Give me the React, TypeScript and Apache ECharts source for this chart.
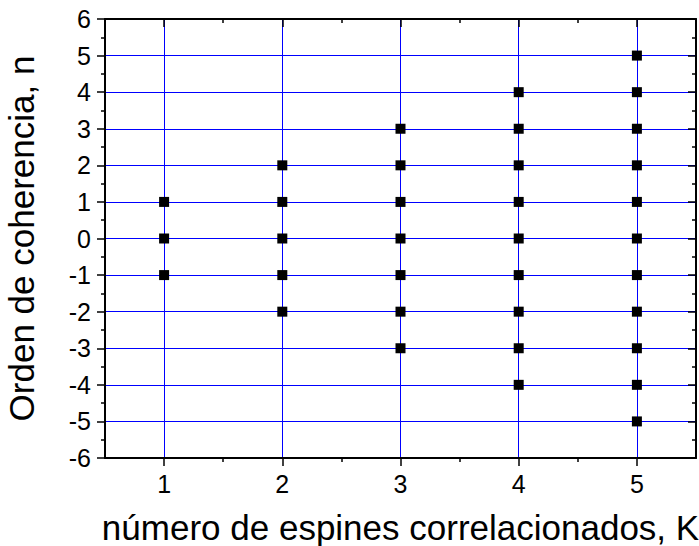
import React, { useEffect, useRef } from "react";
import * as echarts from "echarts";

// Number of correlated spins K on the horizontal axis
const K_VALUES = [1, 2, 3, 4, 5];
// Coherence orders n reachable for each K
const ORDERS_K1 = [-1, 0, 1];
const ORDERS_K2 = [-2, -1, 0, 1, 2];
const ORDERS_K3 = [-3, -2, -1, 0, 1, 2, 3];
const ORDERS_K4 = [-4, -3, -2, -1, 0, 1, 2, 3, 4];
const ORDERS_K5 = [-5, -4, -3, -2, -1, 0, 1, 2, 3, 4, 5];
const ORDERS = [ORDERS_K1, ORDERS_K2, ORDERS_K3, ORDERS_K4, ORDERS_K5];

// Tick positions
const X_MAJOR_TICKS = [1, 2, 3, 4, 5];
const X_MINOR_TICKS = [1.5, 2.5, 3.5, 4.5];

const X_TITLE = "número de espines correlacionados, K";
const Y_TITLE = "Orden de coherencia, n";

const FONT = "'Liberation Sans', Arial, sans-serif";
const GRID_BLUE = "#0000ff";

export default function App() {
  const ref = useRef<HTMLDivElement>(null);

  useEffect(() => {
    if (!ref.current) return;
    const chart = echarts.init(ref.current, undefined, { renderer: "svg" });

    const points: number[][] = [];
    K_VALUES.forEach((k, i) => {
      ORDERS[i].forEach((n) => points.push([k, n]));
    });

    const axisLine = { show: true, onZero: false, lineStyle: { color: "#000", width: 2 } };
    const noLine = { show: false, onZero: false };
    const tickStyle = { color: "#000", width: 1.5 };

    const xBase = { type: "value" as const, min: 0.5, max: 5.5 };

    chart.setOption({
      animation: false,
      backgroundColor: "#fff",
      grid: {
        left: 105,
        right: 3,
        top: 19,
        bottom: 88,
        containLabel: false,
        outerBoundsMode: "none",
      },
      xAxis: [
        {
          ...xBase,
          position: "bottom",
          axisLine,
          axisTick: { show: true, inside: false, length: 8, customValues: X_MAJOR_TICKS, lineStyle: tickStyle },
          axisLabel: {
            show: true,
            customValues: X_MAJOR_TICKS,
            fontSize: 25,
            fontFamily: FONT,
            color: "#000",
            margin: 13,
          },
          splitLine: { show: true, lineStyle: { color: GRID_BLUE, width: 1 } },
          name: X_TITLE,
          nameLocation: "middle",
          nameGap: 52,
          nameTextStyle: { fontSize: 35, fontFamily: FONT, color: "#000" },
        },
        {
          ...xBase,
          position: "bottom",
          axisLine: noLine,
          axisTick: { show: true, inside: false, length: 4, customValues: X_MINOR_TICKS, lineStyle: tickStyle },
          axisLabel: { show: false },
          splitLine: { show: false },
        },
        {
          ...xBase,
          position: "top",
          axisLine,
          axisTick: { show: true, inside: true, length: 8, customValues: X_MAJOR_TICKS, lineStyle: tickStyle },
          axisLabel: { show: false },
          splitLine: { show: false },
        },
        {
          ...xBase,
          position: "top",
          axisLine: noLine,
          axisTick: { show: true, inside: true, length: 4, customValues: X_MINOR_TICKS, lineStyle: tickStyle },
          axisLabel: { show: false },
          splitLine: { show: false },
        },
      ],
      yAxis: [
        {
          type: "value",
          position: "left",
          min: -6,
          max: 6,
          interval: 1,
          axisLine,
          axisTick: { show: true, inside: false, length: 8, lineStyle: tickStyle },
          minorTick: { show: true, splitNumber: 2, length: 4, lineStyle: tickStyle },
          axisLabel: {
            fontSize: 25,
            fontFamily: FONT,
            color: "#000",
            margin: 14,
          },
          splitLine: { show: true, lineStyle: { color: GRID_BLUE, width: 1 } },
          name: Y_TITLE,
          nameLocation: "middle",
          nameGap: 66,
          nameTextStyle: { fontSize: 35, fontFamily: FONT, color: "#000" },
        },
        {
          type: "value",
          position: "right",
          min: -6,
          max: 6,
          interval: 1,
          axisLine,
          axisTick: { show: true, inside: true, length: 8, lineStyle: tickStyle },
          minorTick: { show: true, splitNumber: 2, length: 4, lineStyle: tickStyle },
          axisLabel: { show: false },
          splitLine: { show: false },
        },
      ],
      series: [
        {
          type: "scatter",
          xAxisIndex: 0,
          yAxisIndex: 0,
          symbol: "rect",
          symbolSize: 10,
          itemStyle: { color: "#000", opacity: 1 },
          data: points,
          z: 5,
        },
      ],
    });

    return () => chart.dispose();
  }, []);

  return <div ref={ref} style={{ width: 699, height: 546, position: "absolute", left: 0, top: 0 }} />;
}
